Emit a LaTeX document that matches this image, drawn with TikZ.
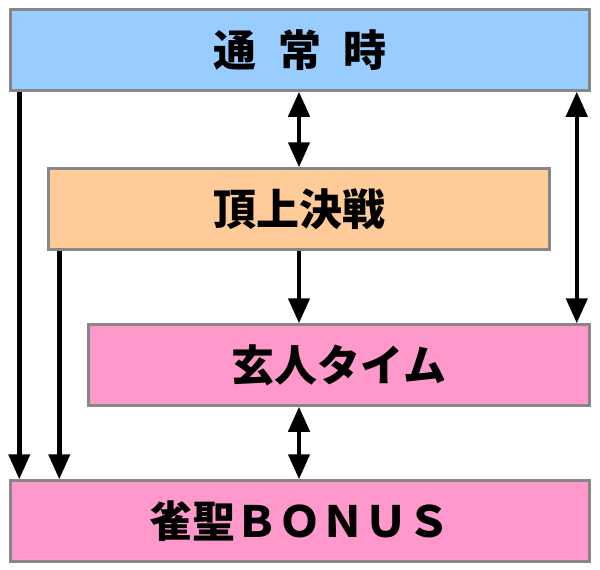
\documentclass[tikz,border=0pt]{standalone}
\usepackage{fontspec}
\newfontfamily\jp{Noto Sans CJK JP}
\usepackage{tikz}
\usetikzlibrary{arrows.meta}
\begin{document}
\begin{tikzpicture}[x=1pt, y=-1pt,
		stage/.style={draw=black!47, line width=2.5pt, minimum height=81pt, inner sep=0pt,
			font=\jp\bfseries\fontsize{43}{43}\selectfont},
		arr/.style={line width=4.5pt, -{Triangle[width=21pt,length=25pt]}},
		darr/.style={line width=4.5pt, {Triangle[width=21pt,length=25pt]}-{Triangle[width=21pt,length=25pt]}}]
				\useasboundingbox (0,0) rectangle (600,570);
				\node[stage, fill={rgb,255:red,153;green,204;blue,255}, minimum width=579pt] (normal) at (300,50) {通\hspace{22pt}常\hspace{22pt}時};
				\node[stage, fill={rgb,255:red,255;green,204;blue,153}, minimum width=501pt] (summit) at (299,209) {頂上決戦};
				\node[stage, fill={rgb,255:red,255;green,153;blue,204}, minimum width=501pt] (expert) at (339,365) {玄人タイム};
				\node[stage, fill={rgb,255:red,255;green,153;blue,204}, minimum width=579pt] (bonus) at (300,521) {雀聖ＢＯＮＵＳ};
				\draw[arr] ([xshift=10pt]normal.south west) -- ([xshift=10pt]bonus.north west);
				\draw[arr] ([xshift=12pt]summit.south west) -- ([xshift=12pt]summit.south west |- bonus.north);
				\draw[darr] (summit.north) -- (summit.north |- normal.south);
				\draw[arr] (summit.south) -- (summit.south |- expert.north);
				\draw[darr] ([xshift=-14pt]expert.north east) -- ([xshift=-14pt]expert.north east |- normal.south);
				\draw[darr] (expert.south -| summit.south) -- (summit.south |- bonus.north);
			\end{tikzpicture}
\end{document}
